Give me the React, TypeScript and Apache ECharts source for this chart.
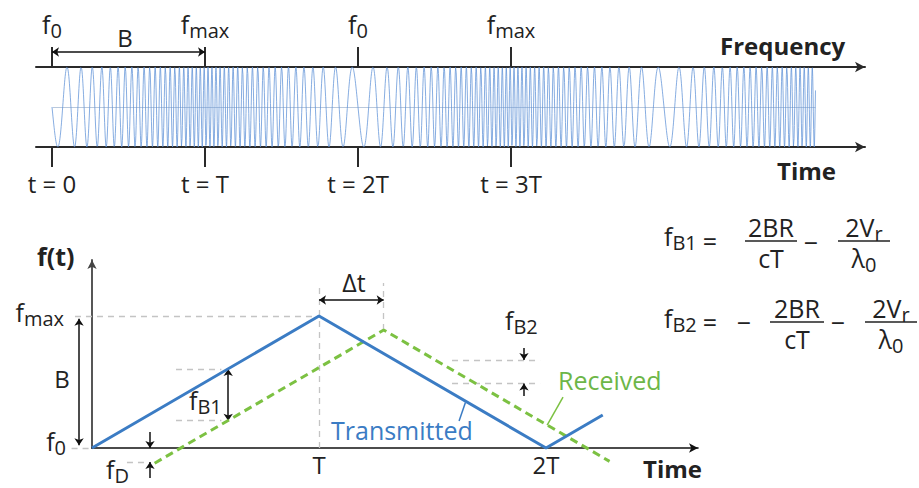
import React, { useEffect, useRef } from "react";
import * as echarts from "echarts";

const FONT = "'Open Sans', 'Noto Sans', sans-serif";

// ---------- Top panel: triangular FMCW chirp (time in units of T) ----------
const chirpTickValues = [0, 1, 2, 3];
const chirpFreqLabels = ["f0", "fmax", "f0", "fmax"];
const chirpTimeLabels = ["t = 0", "t = T", "t = 2T", "t = 3T"];
const chirpLowCyclesPerT = 6; // oscillations per T at f0
const chirpHighCyclesPerT = 40; // oscillations per T at fmax
const chirpEndT = 4.99;

// ---------- Bottom panel: f(t), f0 = 0, fmax = 1 (= B), time in T ----------
const transmittedT = [0, 1, 2, 2.25];
const transmittedF = [0, 1, 0, 0.25];
const deltaT = 0.285; // round-trip delay Δt
const dopplerF = 0.106; // Doppler shift fD
const receivedT = [0.276, 1.285, 2.28];
const receivedF = [-0.115, 0.894, -0.101];
const timeTickValues = [1, 2];
const timeTickLabels = ["T", "2T"];

// ---------- layout ----------
const TOPG = { left: 36, top: 67, width: 829, height: 80 };
const TOP_PX_PER_T = 153;
const TOP_MIN = -16 / TOP_PX_PER_T;
const TOP_MAX = TOP_MIN + TOPG.width / TOP_PX_PER_T;
const BOTG = { left: 92, top: 260, width: 606, height: 188 };
const BOT_TMAX = 606 / 227;
const BOT_FMAX = 188 / 132;

const TEXT = "#222";
const BLUE = "#3b7cc4";
const GREEN = "#7cc142";
const GUIDE = "#c4c4c4";

function buildChirp() {
  const pts: number[][] = [];
  const dt = 1 / 500;
  let phase = 0;
  for (let t = 0; t <= chirpEndT; t += dt) {
    const m = t % 2;
    const tri = m <= 1 ? m : 2 - m;
    const f = chirpLowCyclesPerT + (chirpHighCyclesPerT - chirpLowCyclesPerT) * tri;
    pts.push([t, -Math.sin(phase)]);
    phase += 2 * Math.PI * f * dt;
  }
  return pts;
}

function txt(x: number, y: number, text: string, o: any = {}) {
  const align = o.align || "center";
  return {
    type: "text",
    x,
    y,
    z: 100,
    silent: true,
    style: {
      text,
      fill: o.color || TEXT,
      fontSize: o.size || 24,
      fontFamily: FONT,
      fontWeight: o.bold ? "bold" : "normal",
      align,
      textAlign: align,
      verticalAlign: "middle",
      textVerticalAlign: "middle",
    },
  };
}

function subTxt(x: number, y: number, base: string, sub: string, o: any = {}) {
  const size = o.size || 24;
  const subSize = Math.round(size * 0.78);
  const color = o.color || TEXT;
  const align = o.align || "left";
  return {
    type: "text",
    x,
    y,
    z: 100,
    silent: true,
    style: {
      text: `{b|${base}}{s|${sub}}`,
      fill: color,
      fontFamily: FONT,
      fontSize: size,
      align,
      textAlign: align,
      verticalAlign: "middle",
      textVerticalAlign: "middle",
      rich: {
        b: { fontSize: size, fontFamily: FONT, fill: color, color },
        s: {
          fontSize: subSize,
          fontFamily: FONT,
          fill: color,
          color,
          padding: [Math.round(size * 0.5), 0, 0, 0],
        },
      },
    },
  };
}

function hline(x1: number, x2: number, y: number) {
  return {
    type: "line",
    z: 100,
    silent: true,
    shape: { x1, y1: y, x2, y2: y },
    style: { stroke: TEXT, lineWidth: 1.5 },
  };
}

// fraction: numerator / denominator around a bar at y
function fraction(cx: number, y: number, half: number, num: any, den: any) {
  return [num(cx, y - 14), hline(cx - half, cx + half, y), den(cx, y + 17)];
}

function buildOption() {
  const richTop = {
    b: { fontSize: 25, fontFamily: FONT, color: TEXT },
    s: { fontSize: 20, fontFamily: FONT, color: TEXT, padding: [13, 0, 0, 0] },
  };
  const topAxisCommon = {
    type: "value",
    gridIndex: 0,
    min: TOP_MIN,
    max: TOP_MAX,
    splitLine: { show: false },
    axisLine: {
      show: true,
      onZero: false,
      symbol: ["none", "arrow"],
      symbolSize: [8, 10],
      lineStyle: { color: "#2a2a2a", width: 2 },
    },
    axisTick: {
      show: true,
      customValues: chirpTickValues,
      length: 20,
      inside: false,
      lineStyle: { color: "#2a2a2a", width: 2 },
    },
  };

  const B = 1; // bandwidth (fmax - f0)
  const fB1Level = 0.598;
  const fB1Low = fB1Level - deltaT - dopplerF;
  const fB2High = 0.667;
  const fB2Low = fB2High - (deltaT - dopplerF);

  const n2BR = (x: number, y: number) => txt(x, y, "2BR", { size: 25 });
  const dcT = (x: number, y: number) => txt(x, y, "cT", { size: 25 });
  const n2Vr = (x: number, y: number) => subTxt(x, y, "2V", "r", { size: 25, align: "center" });
  const dLam = (x: number, y: number) => subTxt(x, y, "λ", "0", { size: 25, align: "center" });

  return {
    animation: false,
    backgroundColor: "#fff",
    grid: [
      { ...TOPG, containLabel: false },
      { ...BOTG, containLabel: false },
    ],
    xAxis: [
      {
        ...topAxisCommon,
        position: "bottom",
        axisLabel: {
          customValues: chirpTickValues,
          margin: 24,
          fontSize: 24,
          fontFamily: FONT,
          color: TEXT,
          formatter: (v: number) => chirpTimeLabels[chirpTickValues.indexOf(v)] ?? "",
        },
      },
      {
        ...topAxisCommon,
        position: "top",
        axisLabel: {
          customValues: chirpTickValues,
          margin: 27,
          rich: richTop,
          formatter: (v: number) => {
            const s = chirpFreqLabels[chirpTickValues.indexOf(v)] ?? "";
            return `{b|${s.slice(0, 1)}}{s|${s.slice(1)}}`;
          },
        },
      },
      {
        type: "value",
        gridIndex: 1,
        min: 0,
        max: BOT_TMAX,
        splitLine: { show: false },
        axisLine: {
          show: true,
          symbol: ["none", "arrow"],
          symbolSize: [7, 9],
          lineStyle: { color: "#111", width: 1.6 },
        },
        axisTick: { show: false },
        axisLabel: {
          customValues: timeTickValues,
          margin: 4,
          fontSize: 24,
          fontFamily: FONT,
          color: TEXT,
          formatter: (v: number) => timeTickLabels[timeTickValues.indexOf(v)] ?? "",
        },
      },
    ],
    yAxis: [
      { type: "value", gridIndex: 0, min: -1, max: 1, show: false },
      {
        type: "value",
        gridIndex: 1,
        min: 0,
        max: BOT_FMAX,
        splitLine: { show: false },
        axisTick: { show: false },
        axisLabel: { show: false },
        axisLine: {
          show: true,
          symbol: ["none", "arrow"],
          symbolSize: [7, 9],
          lineStyle: { color: "#444", width: 1.8 },
        },
      },
    ],
    series: [
      // midline of chirp
      {
        type: "lines",
        coordinateSystem: "cartesian2d",
        xAxisIndex: 0,
        yAxisIndex: 0,
        clip: false,
        silent: true,
        lineStyle: { color: "#b9c8dc", width: 1, opacity: 1 },
        data: [{ coords: [[0.005, 0], [chirpEndT, 0]] }],
      },
      {
        type: "line",
        xAxisIndex: 0,
        yAxisIndex: 0,
        data: buildChirp(),
        showSymbol: false,
        symbol: "none",
        clip: false,
        silent: true,
        lineStyle: { color: "rgba(95,145,215,0.75)", width: 1 },
        z: 3,
      },
      // B span arrow (top)
      {
        type: "lines",
        coordinateSystem: "cartesian2d",
        xAxisIndex: 0,
        yAxisIndex: 0,
        clip: false,
        silent: true,
        symbol: ["arrow", "arrow"],
        symbolSize: 7,
        lineStyle: { color: "#111", width: 1.5, opacity: 1 },
        data: [{ coords: [[0, 1.375], [1, 1.375]] }],
      },
      // dashed guides (bottom)
      {
        type: "lines",
        coordinateSystem: "cartesian2d",
        xAxisIndex: 2,
        yAxisIndex: 1,
        clip: false,
        silent: true,
        lineStyle: { color: GUIDE, width: 1.3, type: [6, 5], opacity: 1 },
        data: [
          { coords: [[-0.075, B], [1, B]] },
          { coords: [[-0.09, 0], [0, 0]] },
          { coords: [[1, 0], [1, 1.25]] },
          { coords: [[1 + deltaT, 1 - dopplerF], [1 + deltaT, 1.25]] },
          { coords: [[0.37, fB1Level], [0.57, fB1Level]] },
          { coords: [[0.37, fB1Low], [0.57, fB1Low]] },
          { coords: [[0.154, -dopplerF], [0.24, -dopplerF]] },
          { coords: [[1.586, fB2High], [1.974, fB2High]] },
          { coords: [[1.586, fB2Low], [1.974, fB2Low]] },
        ],
      },
      // transmitted
      {
        type: "line",
        xAxisIndex: 2,
        yAxisIndex: 1,
        data: transmittedT.map((t, i) => [t, transmittedF[i]]),
        showSymbol: false,
        symbol: "none",
        clip: false,
        silent: true,
        lineStyle: { color: BLUE, width: 3 },
        z: 5,
      },
      // received
      {
        type: "line",
        xAxisIndex: 2,
        yAxisIndex: 1,
        data: receivedT.map((t, i) => [t, receivedF[i]]),
        showSymbol: false,
        symbol: "none",
        clip: false,
        silent: true,
        lineStyle: { color: GREEN, width: 3, type: [8, 5] },
        z: 4,
      },
      // double arrows
      {
        type: "lines",
        coordinateSystem: "cartesian2d",
        xAxisIndex: 2,
        yAxisIndex: 1,
        clip: false,
        silent: true,
        symbol: ["arrow", "arrow"],
        symbolSize: 7,
        lineStyle: { color: "#111", width: 1.5, opacity: 1 },
        data: [
          { coords: [[-0.057, 0.02], [-0.057, 0.98]] },
          { coords: [[0.6, fB1Level], [0.6, fB1Low]] },
          { coords: [[1, 1.121], [1 + deltaT, 1.121]] },
        ],
      },
      // single arrows
      {
        type: "lines",
        coordinateSystem: "cartesian2d",
        xAxisIndex: 2,
        yAxisIndex: 1,
        clip: false,
        silent: true,
        symbol: ["none", "arrow"],
        symbolSize: 7,
        lineStyle: { color: "#111", width: 1.5, opacity: 1 },
        data: [
          { coords: [[0.2555, 0.121], [0.2555, 0]] },
          { coords: [[0.2555, -0.227], [0.2555, -dopplerF]] },
          { coords: [[1.903, 0.758], [1.903, fB2High]] },
          { coords: [[1.903, 0.394], [1.903, fB2Low]] },
        ],
      },
      // leader lines
      {
        type: "lines",
        coordinateSystem: "cartesian2d",
        xAxisIndex: 2,
        yAxisIndex: 1,
        clip: false,
        silent: true,
        lineStyle: { width: 1.5, opacity: 1 },
        data: [
          { coords: [[1.617, 0.205], [1.645, 0.345]], lineStyle: { color: BLUE } },
          { coords: [[2.005, 0.174], [2.075, 0.386]], lineStyle: { color: GREEN } },
        ],
      },
    ],
    graphic: [
      // top panel
      txt(125, 37, "B", { size: 24 }),
      txt(720, 45, "Frequency", { size: 24, bold: true, align: "left" }),
      txt(777, 170, "Time", { size: 24, bold: true, align: "left" }),
      // bottom panel labels
      txt(37, 256, "f(t)", { size: 25, bold: true, align: "left" }),
      subTxt(64, 312, "f", "max", { align: "right", size: 25 }),
      txt(62, 378, "B", { size: 24 }),
      subTxt(66, 441, "f", "0", { align: "right", size: 25 }),
      subTxt(106, 469, "f", "D", { size: 25 }),
      subTxt(189, 400, "f", "B1", { size: 25 }),
      txt(354, 282, "Δt", { size: 25 }),
      subTxt(505, 320, "f", "B2", { size: 25 }),
      txt(558, 380, "Received", { size: 25, color: "#6db648", align: "left" }),
      txt(331, 430, "Transmitted", { size: 25, color: BLUE, align: "left" }),
      txt(643, 468, "Time", { size: 24, bold: true, align: "left" }),
      // formula 1
      subTxt(664, 236, "f", "B1", { size: 25 }),
      txt(710, 241, "=", { size: 25 }),
      ...fraction(771, 241, 26, n2BR, dcT),
      txt(811, 242, "−", { size: 25 }),
      ...fraction(864, 241, 26, n2Vr, dLam),
      // formula 2
      subTxt(664, 318, "f", "B2", { size: 25 }),
      txt(710, 322, "=", { size: 25 }),
      txt(744, 322, "−", { size: 25 }),
      ...fraction(797, 322, 27, n2BR, dcT),
      txt(838, 322, "−", { size: 25 }),
      ...fraction(891, 322, 26, n2Vr, dLam),
    ],
  };
}

export default function App() {
  const ref = useRef<HTMLDivElement>(null);
  useEffect(() => {
    if (!ref.current) return;
    const chart = echarts.init(ref.current, null, { renderer: "svg" });
    chart.setOption(buildOption() as any);
    return () => chart.dispose();
  }, []);
  return (
    <div
      ref={ref}
      style={{ position: "absolute", left: 0, top: 0, width: 919, height: 488, background: "#fff" }}
    />
  );
}
